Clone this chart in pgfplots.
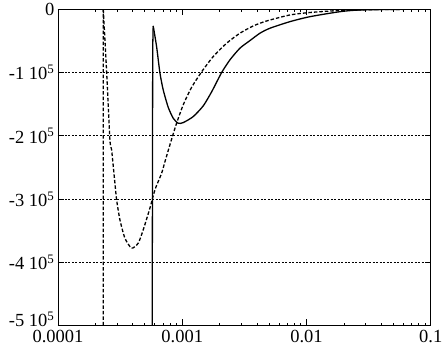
\documentclass[border=0pt]{standalone}
\usepackage{fontspec}
\setmainfont{Liberation Serif}
\usepackage{pgfplots}
\pgfplotsset{compat=1.18}

\begin{document}
\begin{tikzpicture}
\begin{axis}[
  name=ax,
  scale only axis,
  width=373pt, height=316.4pt,
  xmode=log,
  xmin=1e-4, xmax=0.1,
  ymin=-500000, ymax=0,
  xtick={1e-4,1e-3,1e-2,1e-1},
  xticklabels={0.0001,0.001,0.01,0.1},
  ytick={-400000,-300000,-200000,-100000,0},
  yticklabels={-4 10\textsuperscript{5},-3 10\textsuperscript{5},-2 10\textsuperscript{5},-1 10\textsuperscript{5},0},
  extra y ticks={-500000},
  extra y tick labels={-5 10\textsuperscript{5}},
  extra y tick style={yticklabel style={yshift=6pt}},
  scaled y ticks=false,
  minor tick num=0,
  minor x tick num=0,
  tick align=inside,
  major tick length=6pt,
  tick style={black, line width=0.7pt},
  axis line style={line width=0.9pt},
  ymajorgrids,
  major grid style={black, line width=0.7pt, dash pattern=on 2pt off 1.5pt},
  tick label style={font=\fontsize{18.5}{20}\selectfont},
  xticklabel style={yshift=-1.5pt},
  /pgf/number format/assume math mode=true,
]

% dashed curve: vertical rise, then smooth part
\addplot[black, line width=1.3pt, dash pattern=on 3.5pt off 2pt] coordinates {
(2.314e-4,-500000) (2.318e-4,-1100)
};
\addplot[black, line width=1.3pt, dash pattern=on 3.5pt off 2pt, smooth, tension=0.4] coordinates {
(2.318e-4,-1100) (2.465e-4,-99100) (2.620e-4,-206500)
(2.704e-4,-222300) (2.874e-4,-275000) (2.966e-4,-301400) (3.154e-4,-333000)
(3.459e-4,-361900) (3.916e-4,-377700) (4.426e-4,-369800) (4.855e-4,-348800)
(5.496e-4,-314500) (6.031e-4,-285600) (6.829e-4,-259200) (7.258e-4,-241300)
(8.217e-4,-205400) (9.013e-4,-180200) (1.0186e-3,-151200) (1.190e-3,-123500)
(1.432e-3,-99000) (1.7757e-3,-74900) (2.2762e-3,-53700) (2.9112e-3,-37900)
(3.7243e-3,-26400) (4.775e-3,-18500) (7.350e-3,-9000) (1.065e-2,-5100)
(1.857e-2,-1900) (3.896e-2,-300) (0.1,0)
};

% solid curve: vertical rise to the peak, then smooth part
\addplot[black, line width=1.3pt] coordinates {
(5.735e-4,-500000) (5.790e-4,-60000) (5.843e-4,-26400)
};
\addplot[black, line width=1.3pt, smooth, tension=0.4] coordinates {
(5.843e-4,-26400) (6.223e-4,-59100)
(6.614e-4,-100200) (7.035e-4,-127500) (7.715e-4,-154900) (8.467e-4,-172300)
(9.286e-4,-180200) (1.0186e-3,-179200) (1.2259e-3,-169700) (1.4757e-3,-152800)
(1.7237e-3,-130700) (2.075e-3,-100200) (2.4193e-3,-80100) (2.9112e-3,-61600)
(3.504e-3,-49600) (4.218e-3,-37900) (5.076e-3,-30000) (7.350e-3,-19600)
(1.065e-2,-11700) (1.857e-2,-3800) (2.689e-2,-1100) (5.64e-2,-100) (0.1,0)
};

\end{axis}
\pgfresetboundingbox
\path[use as bounding box] ([xshift=-58pt,yshift=-21.3pt]ax.south west) rectangle ([xshift=12.3pt,yshift=9.3pt]ax.north east);
\end{tikzpicture}
\end{document}
